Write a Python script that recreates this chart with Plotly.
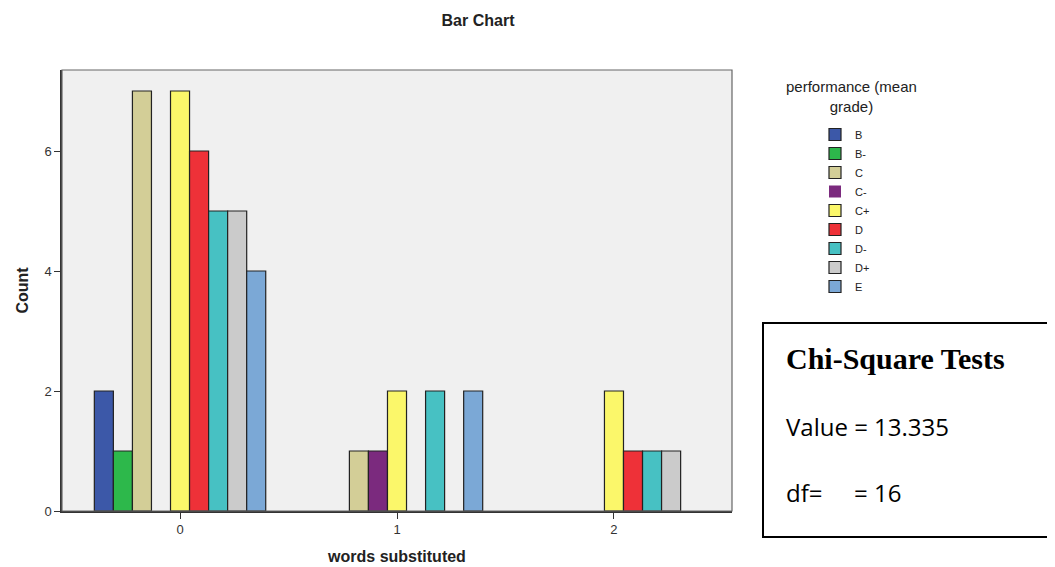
import plotly.graph_objects as go

categories = ["0", "1", "2"]
grades = ["B", "B-", "C", "C-", "C+", "D", "D-", "D+", "E"]
counts = {
    "B":  [2, 0, 0],
    "B-": [1, 0, 0],
    "C":  [7, 1, 0],
    "C-": [0, 1, 0],
    "C+": [7, 2, 2],
    "D":  [6, 0, 1],
    "D-": [5, 2, 1],
    "D+": [5, 0, 1],
    "E":  [4, 2, 0],
}
colors = {
    "B": "#3c58a8", "B-": "#2db84b", "C": "#d3ce97", "C-": "#7b2a7e",
    "C+": "#fbf76a", "D": "#ee3138", "D-": "#47c1c3", "D+": "#cbcbcb", "E": "#7ba8d6",
}

# window-pixel helpers (page body has an 8px margin)
PL, PR, PT, PB = 62, 732, 70, 511
def px(X):
    return (X - PL) / (PR - PL)
def py(Y):
    return (PB - Y) / (PB - PT)

fig = go.Figure()
for g in grades:
    vals = counts[g]
    fig.add_trace(go.Bar(
        x=[0, 1, 2], y=vals, name=g,
        marker=dict(color=colors[g],
                    line=dict(color="#222222", width=[1.2 if v > 0 else 0 for v in vals])),
    ))

W, H = 1047, 559
fig.update_layout(
    width=W, height=H,
    barmode="group", bargap=0.21, bargroupgap=0,
    paper_bgcolor="white", plot_bgcolor="#f0f0f0",
    margin=dict(l=PL - 8, r=W - (PR - 8), t=PT - 8, b=H - (PB - 8), autoexpand=False),
    font=dict(family="Liberation Sans, Arial", size=12, color="#222"),
    xaxis=dict(range=[-0.544, 2.544], tickvals=[0, 1, 2], ticktext=categories,
               ticks="outside", ticklen=6, tickcolor="#333", showgrid=False,
               tickfont=dict(size=13, color="#333"), automargin=False,
               showline=True, linecolor="#333", linewidth=1.5, zeroline=False,
               title=dict(text="<b>words substituted</b>", font=dict(size=16), standoff=14)),
    yaxis=dict(range=[0, 7.35], tickvals=[0, 2, 4, 6], ticks="outside", ticklen=6,
               tickcolor="#333", showgrid=False, showline=True, linecolor="#333",
               tickfont=dict(size=13, color="#333"), automargin=False,
               linewidth=1.5, zeroline=False,
               title=dict(text="<b>Count</b>", font=dict(size=16), standoff=12)),
    title=dict(text="<b>Bar Chart</b>", x=(478 - 8) / W, xanchor="center",
               y=1 - (20 - 8) / H, yanchor="middle", font=dict(size=16, color="#222")),
    legend=dict(x=px(815), xanchor="left", y=py(120), yanchor="top",
                font=dict(size=11), tracegroupgap=0, itemwidth=30,
                bgcolor="rgba(0,0,0,0)"),
    showlegend=True,
)

# legend title
fig.add_annotation(xref="paper", yref="paper", x=px(851), y=py(96),
                   xanchor="center", yanchor="middle", showarrow=False,
                   text="performance (mean<br>grade)",
                   font=dict(size=15, color="#222"))

# plot frame (top/right)
fig.add_shape(type="rect", xref="paper", yref="paper", x0=0, y0=0, x1=1, y1=1,
              line=dict(color="#666", width=1.2), layer="above")

# Chi-square box
fig.add_shape(type="rect", xref="paper", yref="paper",
              x0=px(763), x1=px(1053), y0=py(537), y1=py(323),
              line=dict(color="black", width=2), fillcolor="white")
fig.add_annotation(xref="paper", yref="paper", x=px(784), y=py(358),
                   xanchor="left", yanchor="middle", showarrow=False,
                   text="<b>Chi-Square Tests</b>",
                   font=dict(family="Liberation Serif, Times New Roman", size=30, color="black"))
fig.add_annotation(xref="paper", yref="paper", x=px(784), y=py(426),
                   xanchor="left", yanchor="middle", showarrow=False,
                   text="Value = 13.335",
                   font=dict(family="Open Sans", size=24, color="black"))
fig.add_annotation(xref="paper", yref="paper", x=px(784), y=py(492),
                   xanchor="left", yanchor="middle", showarrow=False,
                   text="df=",
                   font=dict(family="Open Sans", size=24, color="black"))
fig.add_annotation(xref="paper", yref="paper", x=px(852), y=py(492),
                   xanchor="left", yanchor="middle", showarrow=False,
                   text="= 16",
                   font=dict(family="Open Sans", size=24, color="black"))

fig.write_html("out.html")
